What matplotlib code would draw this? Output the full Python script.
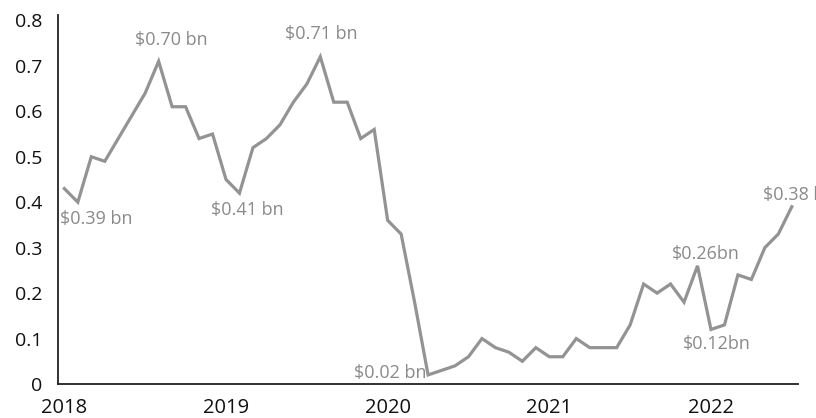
import matplotlib
matplotlib.use('Agg')
import matplotlib.pyplot as plt

# monthly values, Jan 2018 .. Jul 2022 ($ bn)
months = list(range(55))
values = [0.43, 0.40, 0.50, 0.49, 0.54, 0.59, 0.64, 0.71, 0.61, 0.61, 0.54, 0.55,
          0.45, 0.42, 0.52, 0.54, 0.57, 0.62, 0.66, 0.72, 0.62, 0.62, 0.54, 0.56,
          0.36, 0.33, 0.18, 0.02, 0.03, 0.04, 0.06, 0.10, 0.08, 0.07, 0.05, 0.08,
          0.06, 0.06, 0.10, 0.08, 0.08, 0.08, 0.13, 0.22, 0.20, 0.22, 0.18, 0.26,
          0.12, 0.13, 0.24, 0.23, 0.30, 0.33, 0.39]
year_ticks = [0, 12, 24, 36, 48]
year_labels = ['2018', '2019', '2020', '2021', '2022']
y_ticks = [0, 0.1, 0.2, 0.3, 0.4, 0.5, 0.6, 0.7, 0.8]
y_labels = ['0', '0.1', '0.2', '0.3', '0.4', '0.5', '0.6', '0.7', '0.8']

# (point index, text, offset px, ha)
callouts = [
    (1, '$0.39 bn', (-18, -17), 'left'),
    (7, '$0.70 bn', (13, 21), 'center'),
    (13, '$0.41 bn', (8, -17), 'center'),
    (19, '$0.71 bn', (1, 23), 'center'),
    (27, '$0.02 bn', (-38, 2), 'center'),
    (47, '$0.26bn', (8, 12), 'center'),
    (48, '$0.12bn', (6, -15), 'center'),
    (54, '$0.38 bn', (-29, 12), 'left'),
]

plt.rcParams['font.family'] = ['Open Sans', 'DejaVu Sans']

fig = plt.figure(figsize=(8.16, 4.18), dpi=100)
ax = fig.add_axes([0.0711, 0.0813, 0.907, 0.883])

ax.plot(months, values, color='#939393', lw=2.3, solid_joinstyle='miter', clip_on=False)

for i, txt, off, ha in callouts:
    ax.annotate(txt, xy=(months[i], values[i]), xytext=off, textcoords='offset pixels',
                ha=ha, va='center', fontsize=13, color='#8a8a8a', annotation_clip=False)

ax.set_xlim(-0.47, 54.47)
ax.set_ylim(0, 0.812)
ax.set_xticks(year_ticks)
ax.set_xticklabels(year_labels)
ax.set_yticks(y_ticks)
ax.set_yticklabels(y_labels)
ax.tick_params(axis='both', length=0, labelcolor='#111111')
ax.tick_params(axis='y', pad=11, labelsize=14)
ax.tick_params(axis='x', pad=10, labelsize=14.5)

for s in ['top', 'right']:
    ax.spines[s].set_visible(False)
for s in ['left', 'bottom']:
    ax.spines[s].set_color('#222222')
    ax.spines[s].set_linewidth(1.3)

fig.savefig('out.png', dpi=100)
